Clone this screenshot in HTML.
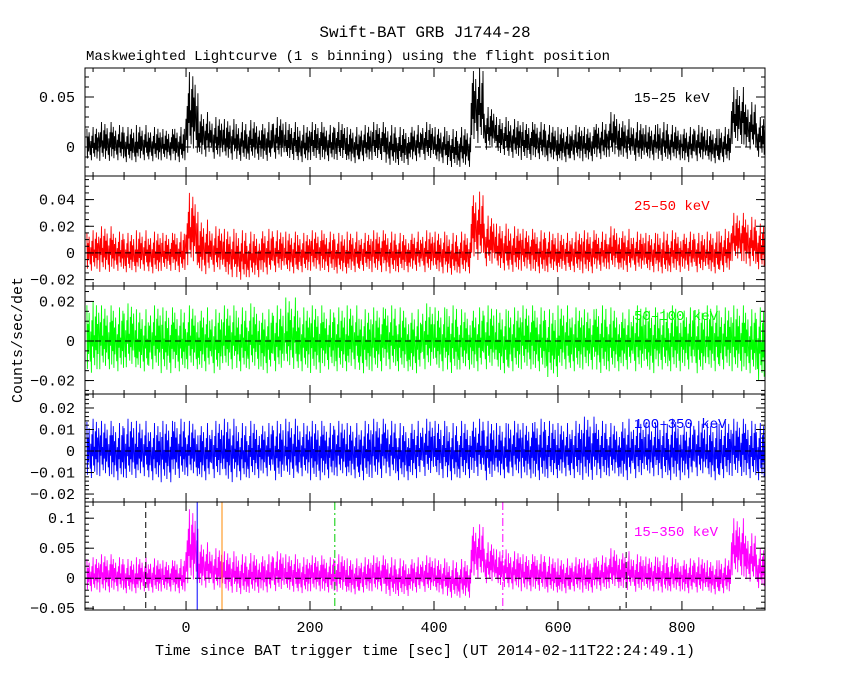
<!DOCTYPE html>
<html><head><meta charset="utf-8"><style>
body{margin:0;background:#fff;}
svg{display:block;font-family:"Liberation Mono",monospace;}
</style></head><body>
<svg id="c" width="850" height="680" viewBox="0 0 850 680">
<text x="425" y="37" text-anchor="middle" font-size="16">Swift-BAT GRB J1744-28</text>
<text x="86" y="60" font-size="14" textLength="524">Maskweighted Lightcurve (1 s binning) using the flight position</text>
<text transform="translate(22,340) rotate(-90)" text-anchor="middle" font-size="15">Counts/sec/det</text>
<text x="425" y="655" text-anchor="middle" font-size="15">Time since BAT trigger time [sec] (UT 2014-02-11T22:24:49.1)</text>
</svg>
<script>
// bin centers: -150 .. 930 step 20 (55 bins)
const binStart = -150, binStep = 20;
const xTicks = [0, 200, 400, 600, 800];
const p1Hi = [0.02,0.025,0.022,0.02,0.022,0.02,0.018,0.02,0.075,0.035,0.03,0.028,0.025,0.027,0.025,0.03,0.025,0.022,0.025,0.022,0.025,0.02,0.022,0.025,0.022,0.02,0.022,0.025,0.02,0.018,0.02,0.08,0.04,0.03,0.028,0.025,0.025,0.022,0.02,0.022,0.02,0.025,0.035,0.028,0.025,0.022,0.025,0.022,0.02,0.022,0.018,0.02,0.06,0.045,0.03];
const p1Lo = [-0.015,-0.016,-0.015,-0.017,-0.015,-0.016,-0.015,-0.017,-0.01,-0.012,-0.014,-0.015,-0.016,-0.015,-0.016,-0.014,-0.015,-0.017,-0.015,-0.016,-0.015,-0.018,-0.016,-0.015,-0.02,-0.02,-0.016,-0.015,-0.018,-0.022,-0.022,0.0,-0.005,-0.01,-0.013,-0.015,-0.014,-0.016,-0.017,-0.015,-0.016,-0.014,-0.012,-0.014,-0.016,-0.015,-0.016,-0.015,-0.017,-0.016,-0.018,-0.017,0.0,-0.005,-0.012];
const p2Hi = [0.017,0.02,0.016,0.015,0.017,0.016,0.015,0.016,0.045,0.025,0.02,0.018,0.017,0.016,0.018,0.017,0.016,0.015,0.017,0.016,0.015,0.016,0.015,0.017,0.016,0.015,0.016,0.017,0.016,0.015,0.016,0.046,0.028,0.022,0.02,0.018,0.017,0.016,0.015,0.016,0.017,0.016,0.02,0.018,0.016,0.015,0.016,0.017,0.016,0.015,0.016,0.018,0.03,0.027,0.022];
const p2Lo = [-0.015,-0.016,-0.015,-0.016,-0.015,-0.017,-0.015,-0.016,-0.012,-0.018,-0.016,-0.02,-0.022,-0.02,-0.018,-0.016,-0.017,-0.016,-0.015,-0.016,-0.017,-0.016,-0.015,-0.016,-0.017,-0.016,-0.015,-0.016,-0.017,-0.018,-0.017,-0.008,-0.012,-0.015,-0.016,-0.015,-0.017,-0.016,-0.015,-0.016,-0.017,-0.015,-0.014,-0.016,-0.015,-0.016,-0.017,-0.016,-0.015,-0.016,-0.017,-0.016,-0.008,-0.012,-0.014];
const p3Hi = [0.02,0.018,0.017,0.019,0.016,0.018,0.017,0.016,0.018,0.017,0.016,0.018,0.017,0.019,0.016,0.018,0.022,0.017,0.018,0.016,0.017,0.018,0.016,0.017,0.018,0.017,0.016,0.019,0.017,0.018,0.016,0.017,0.018,0.016,0.017,0.018,0.017,0.016,0.018,0.017,0.016,0.018,0.017,0.016,0.018,0.017,0.016,0.018,0.017,0.016,0.018,0.017,0.018,0.016,0.017];
const p3Lo = [-0.018,-0.016,-0.017,-0.015,-0.017,-0.016,-0.018,-0.017,-0.016,-0.017,-0.018,-0.016,-0.017,-0.016,-0.018,-0.017,-0.016,-0.017,-0.018,-0.016,-0.017,-0.016,-0.018,-0.017,-0.016,-0.017,-0.018,-0.016,-0.017,-0.018,-0.016,-0.017,-0.016,-0.018,-0.017,-0.016,-0.017,-0.02,-0.016,-0.017,-0.016,-0.018,-0.017,-0.016,-0.017,-0.018,-0.016,-0.017,-0.016,-0.018,-0.017,-0.016,-0.017,-0.018,-0.022];
const p4Hi = [0.015,0.014,0.013,0.015,0.014,0.013,0.014,0.015,0.014,0.013,0.014,0.015,0.013,0.014,0.013,0.014,0.015,0.013,0.014,0.013,0.014,0.013,0.014,0.015,0.014,0.013,0.014,0.015,0.014,0.013,0.014,0.015,0.014,0.013,0.014,0.013,0.015,0.014,0.013,0.014,0.016,0.014,0.013,0.015,0.014,0.013,0.014,0.015,0.013,0.014,0.013,0.014,0.015,0.014,0.013];
const p4Lo = [-0.014,-0.013,-0.015,-0.014,-0.013,-0.015,-0.016,-0.014,-0.013,-0.015,-0.014,-0.016,-0.015,-0.014,-0.013,-0.015,-0.014,-0.013,-0.015,-0.014,-0.013,-0.014,-0.015,-0.014,-0.013,-0.015,-0.014,-0.013,-0.014,-0.015,-0.014,-0.013,-0.015,-0.014,-0.013,-0.014,-0.015,-0.014,-0.013,-0.014,-0.015,-0.014,-0.013,-0.015,-0.014,-0.013,-0.014,-0.015,-0.014,-0.013,-0.015,-0.014,-0.013,-0.014,-0.015];
const p5Hi = [0.035,0.04,0.035,0.032,0.035,0.033,0.03,0.032,0.115,0.06,0.05,0.045,0.04,0.042,0.04,0.045,0.04,0.035,0.038,0.035,0.04,0.033,0.035,0.038,0.035,0.033,0.035,0.038,0.033,0.03,0.032,0.09,0.06,0.048,0.045,0.04,0.04,0.036,0.033,0.035,0.033,0.038,0.05,0.045,0.04,0.036,0.038,0.035,0.033,0.035,0.03,0.033,0.1,0.075,0.05];
const p5Lo = [-0.025,-0.027,-0.025,-0.028,-0.025,-0.027,-0.025,-0.028,-0.015,-0.02,-0.023,-0.028,-0.03,-0.028,-0.027,-0.025,-0.026,-0.028,-0.025,-0.027,-0.026,-0.03,-0.027,-0.025,-0.033,-0.033,-0.027,-0.026,-0.03,-0.036,-0.036,-0.005,-0.012,-0.018,-0.022,-0.025,-0.024,-0.027,-0.028,-0.025,-0.027,-0.024,-0.02,-0.023,-0.026,-0.025,-0.027,-0.025,-0.028,-0.027,-0.03,-0.028,0.0,-0.01,-0.02];
const panels = [
 {hi:p1Hi, lo:p1Lo, top:68, bot:176, ymax:0.079, ymin:-0.029, ticks:[0,0.05], labels:["0","0.05"], minor:0.01, color:"#000", name:"15–25 keV"},
 {hi:p2Hi, lo:p2Lo, top:176, bot:286, ymax:0.0577, ymin:-0.0248, ticks:[-0.02,0,0.02,0.04], labels:["−0.02","0","0.02","0.04"], minor:0.005, color:"#f00", name:"25–50 keV"},
 {hi:p3Hi, lo:p3Lo, top:286, bot:394, ymax:0.0278, ymin:-0.0268, ticks:[-0.02,0,0.02], labels:["−0.02","0","0.02"], minor:0.005, color:"#0f0", name:"50–100 keV"},
 {hi:p4Hi, lo:p4Lo, top:394, bot:502, ymax:0.0265, ymin:-0.0237, ticks:[-0.02,-0.01,0,0.01,0.02], labels:["−0.02","−0.01","0","0.01","0.02"], minor:0.002, color:"#00f", name:"100–350 keV"},
 {hi:p5Hi, lo:p5Lo, top:502, bot:610, ymax:0.127, ymin:-0.053, ticks:[-0.05,0,0.05,0.1], labels:["−0.05","0","0.05","0.1"], minor:0.01, color:"#f0f", name:"15–350 keV"}
];
const markerTimes = [-65, 18, 58, 240, 511, 710];
const markerColors = ["#000","#00f","#f80","#0c0","#f0f","#000"];
const markerDash = ["6,4","","","8,3,2,3","8,3,2,3","6,4"];

const svg = document.getElementById('c');
const NS = "http://www.w3.org/2000/svg";
const L = 85, R = 765, tMin = -163, tMax = 934;
const xs = t => L + (t - tMin) / (tMax - tMin) * (R - L);
function mk(tag, attrs, parent){ const e = document.createElementNS(NS, tag); for (const k in attrs) e.setAttribute(k, attrs[k]); (parent||svg).appendChild(e); return e; }
// drawing-style zigzag pattern (fractions of each bin's envelope)
const jit = [0.95,0.1,0.7,0.3,0.85,0.45,0.2,0.6,0.05,0.75,0.4,1,0.25,0.55,0.15,0.8,0.35];

panels.forEach((p, pi) => {
  const g = mk('g', {});
  
  
  const ys = v => p.top + (p.ymax - v) / (p.ymax - p.ymin) * (p.bot - p.top);
  const clipId = 'cl' + pi;
  const cp = mk('clipPath', {id: clipId}, g);
  mk('rect', {x: L, y: p.top, width: R-L, height: p.bot-p.top}, cp);
  let d = "";
  const per = 22;
  for (let i = 0; i < p.hi.length; i++) {
    const t0 = binStart + binStep*i - binStep/2;
    for (let k = 0; k < per; k++) {
      const t = t0 + binStep*k/per;
      if (t < tMin) continue;
      const f = jit[(k + i*7) % jit.length];
      const v = p.lo[i] + (p.hi[i]-p.lo[i]) * f;
      d += (d ? "L" : "M") + xs(t).toFixed(1) + "," + ys(v).toFixed(1);
    }
  }
  const line = mk('path', {d: d, fill: "none", stroke: p.color, "stroke-width": 0.9, "clip-path": "url(#"+clipId+")"}, g);
  
  
  const zl = mk('line', {x1: L, x2: R, y1: ys(0), y2: ys(0), stroke: "#000", "stroke-dasharray": "6,4"}, g);
  
  
  if (pi === 4) {
    markerTimes.forEach((t, mi) => {
      const ml = mk('line', {x1: xs(t), x2: xs(t), y1: p.top, y2: p.bot, stroke: markerColors[mi], "stroke-width": 1, "stroke-dasharray": markerDash[mi]}, g);
      
      
    });
  }
  const fr = mk('rect', {x: L, y: p.top, width: R-L, height: p.bot-p.top, fill: "none", stroke: "#000"}, g);
  
  
  const mStart = Math.ceil(p.ymin / p.minor), mEnd = Math.floor(p.ymax / p.minor);
  for (let m = mStart; m <= mEnd; m++) {
    const y = ys(m * p.minor);
    mk('line', {x1: L, x2: L+4, y1: y, y2: y, stroke: "#000"}, g);
    mk('line', {x1: R, x2: R-4, y1: y, y2: y, stroke: "#000"}, g);
  }
  p.ticks.forEach((v, ti) => {
    const y = ys(v);
    mk('line', {x1: L, x2: L+9, y1: y, y2: y, stroke: "#000"}, g);
    mk('line', {x1: R, x2: R-9, y1: y, y2: y, stroke: "#000"}, g);
    const tx = mk('text', {x: L-10, y: y+5, "text-anchor": "end", "font-size": 15}, g);
    tx.textContent = p.labels[ti];
    
    
  });
  for (let t = -150; t <= tMax; t += 50) {
    const major = t % 200 === 0;
    const len = major ? 9 : 4;
    mk('line', {x1: xs(t), x2: xs(t), y1: p.bot, y2: p.bot-len, stroke: "#000"}, g);
    mk('line', {x1: xs(t), x2: xs(t), y1: p.top, y2: p.top+len, stroke: "#000"}, g);
  }
  const lb = mk('text', {x: 634, y: p.top + 34, "font-size": 14, fill: p.color}, g);
  lb.textContent = p.name;
  
  
});
xTicks.forEach(t => {
  const tx = mk('text', {x: xs(t), y: 632, "text-anchor": "middle", "font-size": 15});
  tx.textContent = String(t);
  
  
});
</script>
</body></html>
